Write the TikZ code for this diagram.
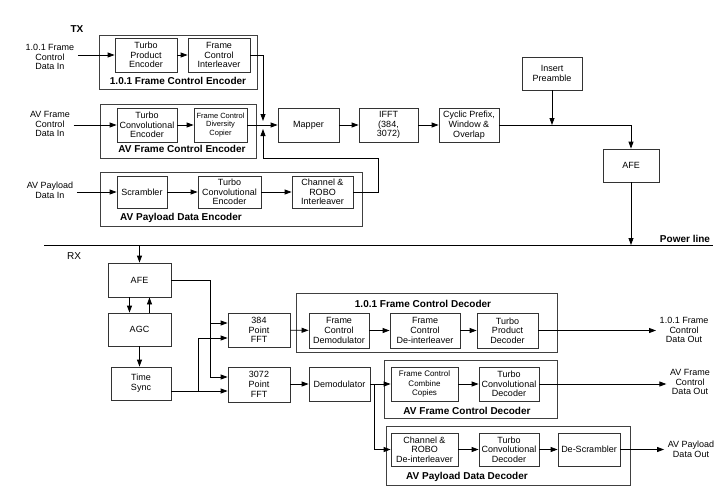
\documentclass[tikz,border=0pt]{standalone}
\usepackage{fontspec}
\setmainfont{Liberation Sans}
\usetikzlibrary{arrows.meta}

\begin{document}
\begin{tikzpicture}[x=1pt, y=-1pt,
    >={Triangle[length=7pt,width=5pt]},
    blk/.style={draw=black!80, line width=0.8pt, align=center, inner sep=0pt, font=\fontsize{9}{9.7}\selectfont},
    grp/.style={draw=black!75, line width=0.8pt, inner sep=0pt},
    grplabel/.style={font=\fontsize{10}{11}\selectfont\bfseries},
    io/.style={align=center, font=\fontsize{9}{9.7}\selectfont},
    every path/.style={line width=0.8pt}]
    \useasboundingbox (0,0) rectangle (723,491);

    %TX side
    \node[font=\fontsize{10}{11}\selectfont\bfseries] (tx) at (77,29) {TX};
    \node[io] (in101) at (50,57) {1.0.1 Frame\\Control\\Data In};
    \node[io] (inav) at (50,124) {AV Frame\\Control\\Data In};
    \node[io] (inpl) at (50,190) {AV Payload\\Data In};

    %1.0.1 Frame Control Encoder
    \node[grp, minimum width=158pt, minimum height=54pt] (enc101) at (178,62) {};
    \node[blk, minimum width=62pt, minimum height=34pt] (tpe) at (146,55) {Turbo\\Product\\Encoder};
    \node[blk, minimum width=62pt, minimum height=34pt] (fci) at (219,55) {Frame\\Control\\Interleaver};
    \node[grplabel] (enc101lbl) at (178,81) {1.0.1 Frame Control Encoder};

    %AV Frame Control Encoder
    \node[grp, minimum width=156pt, minimum height=54pt] (encav) at (178,131) {};
    \node[blk, minimum width=60pt, minimum height=34pt] (tce) at (147,125) {Turbo\\Convolutional\\Encoder};
    \node[blk, minimum width=53pt, minimum height=34pt, font=\fontsize{7.5}{8.3}\selectfont] (dcop) at (220.5,125) {Frame Control\\Diversity\\Copier};
    \node[grplabel] (encavlbl) at (182,149) {AV Frame Control Encoder};

    %AV Payload Data Encoder
    \node[grp, minimum width=262pt, minimum height=54pt] (encpl) at (231,199) {};
    \node[blk, minimum width=50pt, minimum height=32pt] (scr) at (142,192) {Scrambler};
    \node[blk, minimum width=63pt, minimum height=32pt] (tce2) at (229.5,192) {Turbo\\Convolutional\\Encoder};
    \node[blk, minimum width=61pt, minimum height=32pt] (chi) at (322.5,192) {Channel \&\\ROBO\\Interleaver};
    \node[grplabel] (encpllbl) at (181,218) {AV Payload Data Encoder};

    %Modulation chain
    \node[blk, minimum width=61pt, minimum height=34pt] (mapper) at (308.5,125) {Mapper};
    \node[blk, minimum width=59pt, minimum height=34pt] (ifft) at (388.5,125) {IFFT\\(384,\\3072)};
    \node[blk, minimum width=60pt, minimum height=34pt] (cp) at (469,125) {Cyclic Prefix,\\Window \&\\Overlap};
    \node[blk, minimum width=60pt, minimum height=33pt] (pre) at (552,73.5) {Insert\\Preamble};
    \node[blk, minimum width=56pt, minimum height=33pt] (afetx) at (631,165.5) {AFE};

    \coordinate (mtop) at (263,121);
    \coordinate (mbot) at (263,129);
    \coordinate (jpl) at (378,158);
    \coordinate (plw) at (44,245);
    \coordinate (ple) at (713,245);

    \draw[->] (in101.east |- tpe) -- (tpe);
    \draw[->] (tpe) -- (fci);
    \draw[->] (fci.east) -| (mtop);
    \draw[->] (inav.east |- tce) -- (tce);
    \draw[->] (tce) -- (dcop);
    \draw[->] (dcop) -- (mapper);
    \draw[->] (inpl.east |- scr) -- (scr);
    \draw[->] (scr) -- (tce2);
    \draw[->] (tce2) -- (chi);
    \draw[->] (chi.east) -| (jpl) -| (mbot);
    \draw[->] (mapper) -- (ifft);
    \draw[->] (ifft) -- (cp);
    \draw[->] (cp.east) -| (afetx.north);
    \draw[->] (pre.south) -- (pre.south |- cp.east);
    \draw[->] (afetx.south) -- (afetx.south |- plw);

    %Power line
    \draw (plw) -- (ple);
    \node[font=\fontsize{10}{11}\selectfont\bfseries] (plbl) at (685,239) {Power line};

    %RX side
    \node[font=\fontsize{10}{11}\selectfont] (rx) at (74,256) {RX};
    \coordinate (rxin) at (139.5,245);
    \node[blk, minimum width=63pt, minimum height=34pt] (rafe) at (139.5,280) {AFE};
    \node[blk, minimum width=63pt, minimum height=33pt] (agc) at (139.5,329.5) {AGC};
    \node[blk, minimum width=60pt, minimum height=33pt] (tsync) at (141,383.5) {Time\\Sync};
    \node[blk, minimum width=62pt, minimum height=34pt] (fft384) at (259,330) {384\\Point\\FFT};
    \node[blk, minimum width=62pt, minimum height=35pt] (fft3072) at (259,384.5) {3072\\Point\\FFT};

    \draw[->] (rxin) -- (rafe.north);
    \draw[->] ([xshift=-10pt]rafe.south) -- ([xshift=-10pt]agc.north);
    \draw[->] ([xshift=10pt]agc.north) -- ([xshift=10pt]rafe.south);
    \draw[->] (agc.south) -- (agc.south |- tsync.north);

    \coordinate (ja) at (210,323);
    \coordinate (jb) at (210,377);
    \coordinate (jc) at (198,338);
    \coordinate (jd) at (198,391);
    \draw[->] (rafe.east) -| (jb) -- (jb -| fft3072.west);
    \draw[->] (ja) -- (ja -| fft384.west);
    \draw[->] (tsync.east |- jd) -- (jd -| fft3072.west);
    \draw[->] (jd) -- (jc) -- (jc -| fft384.west);

    %1.0.1 Frame Control Decoder
    \node[grp, minimum width=261pt, minimum height=59pt] (dec101) at (426.5,322.5) {};
    \node[grplabel] (dec101lbl) at (423,304) {1.0.1 Frame Control Decoder};
    \node[blk, minimum width=60pt, minimum height=35pt] (fcdm) at (339,330.5) {Frame\\Control\\Demodulator};
    \node[blk, minimum width=70pt, minimum height=35pt] (fcdi) at (425,330.5) {Frame\\Control\\De-interleaver};
    \node[blk, minimum width=61pt, minimum height=35pt] (tpd) at (507.5,330.5) {Turbo\\Product\\Decoder};
    \node[io] (out101) at (684,330) {1.0.1 Frame\\Control\\Data Out};

    %AV Frame Control Decoder
    \node[grp, minimum width=173pt, minimum height=58pt] (decav) at (470.5,389) {};
    \node[grplabel] (decavlbl) at (467,411) {AV Frame Control Decoder};
    \node[blk, minimum width=61pt, minimum height=34pt] (demod) at (339.5,384) {Demodulator};
    \node[blk, minimum width=67pt, minimum height=34pt, font=\fontsize{8}{9.2}\selectfont] (fccc) at (424.5,384) {Frame Control\\Combine\\Copies};
    \node[blk, minimum width=60pt, minimum height=34pt] (tcd) at (509,384) {Turbo\\Convolutional\\Decoder};
    \node[io] (outav) at (690,382) {AV Frame\\Control\\Data Out};

    %AV Payload Data Decoder
    \node[grp, minimum width=244pt, minimum height=59pt] (decpl) at (508,455.5) {};
    \node[grplabel] (decpllbl) at (467,477) {AV Payload Data Decoder};
    \node[blk, minimum width=67pt, minimum height=33pt] (crdi) at (424.5,449.5) {Channel \&\\ROBO\\De-interleaver};
    \node[blk, minimum width=60pt, minimum height=33pt] (tcd2) at (509,449.5) {Turbo\\Convolutional\\Decoder};
    \node[blk, minimum width=62pt, minimum height=33pt] (dscr) at (589,449.5) {De-Scrambler};
    \node[io] (outpl) at (691,449) {AV Payload\\Data Out};

    \coordinate (je) at (374,384);
    \draw[->] (fft384) -- (fcdm);
    \draw[->] (fcdm) -- (fcdi);
    \draw[->] (fcdi) -- (tpd);
    \draw[->] (tpd) -- (tpd -| out101.west);
    \draw[->] (fft3072.east |- demod) -- (demod);
    \draw[->] (demod) -- (fccc);
    \draw[->] (je) |- (crdi.west);
    \draw[->] (fccc) -- (tcd);
    \draw[->] (tcd) -- (tcd -| outav.west);
    \draw[->] (crdi) -- (tcd2);
    \draw[->] (tcd2) -- (dscr);
    \draw[->] (dscr) -- (dscr -| outpl.west);
\end{tikzpicture}
\end{document}
